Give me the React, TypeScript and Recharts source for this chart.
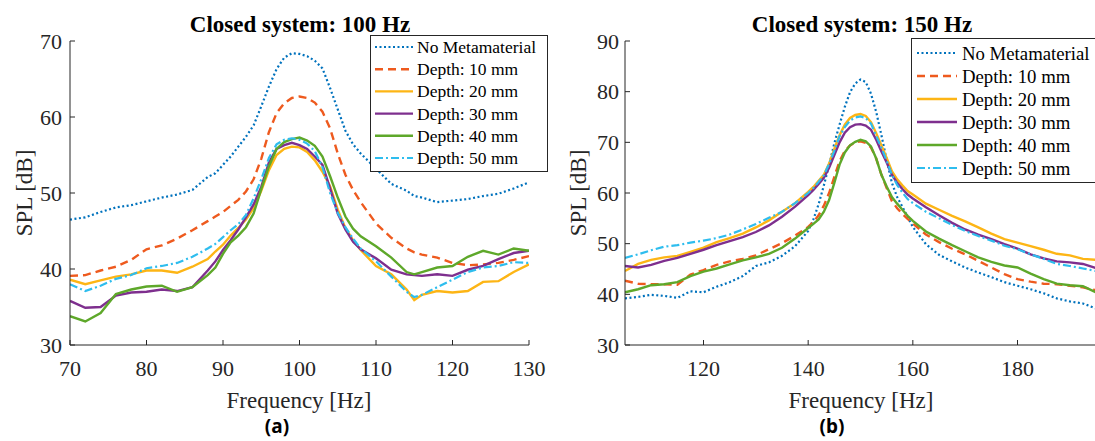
import React from 'react';
import { LineChart, Line, XAxis, YAxis, Legend } from 'recharts';

// ---------- Data (a): Closed system 100 Hz ----------
const freqA = [70, 72, 74, 76, 78, 80, 82, 84, 86, 88, 89, 90, 91, 92, 93, 94, 95, 96, 97, 98, 99, 100, 101, 102, 103, 104, 105, 106, 107, 108, 110, 112, 114, 115, 116, 118, 120, 122, 124, 126, 128, 130];
const noMetaA = [46.5, 46.8, 47.5, 48.1, 48.4, 48.9, 49.4, 49.8, 50.4, 52.1, 52.6, 53.7, 54.8, 56.1, 57.4, 58.9, 61.4, 64.0, 66.3, 67.8, 68.4, 68.3, 68.0, 67.4, 66.4, 63.8, 61.0, 58.2, 56.4, 55.2, 53.2, 51.2, 50.3, 49.6, 49.4, 48.8, 49.0, 49.2, 49.6, 49.9, 50.6, 51.4];
const d10A = [39.1, 39.2, 39.8, 40.3, 41.2, 42.6, 43.1, 44.0, 45.1, 46.3, 46.9, 47.5, 48.3, 49.1, 50.2, 51.8, 54.5, 58.0, 60.5, 61.8, 62.5, 62.7, 62.5, 61.9, 60.7, 58.5, 55.2, 52.4, 50.4, 48.8, 46.0, 44.1, 42.7, 42.2, 41.9, 41.5, 40.8, 40.5, 40.6, 40.8, 41.2, 41.7];
const d20A = [38.6, 38.0, 38.5, 39.0, 39.3, 39.8, 39.8, 39.5, 40.3, 41.3, 42.3, 43.2, 44.4, 45.4, 46.5, 48.0, 50.3, 53.0, 55.0, 55.8, 56.1, 56.0, 55.4, 54.3, 52.8, 50.9, 47.8, 45.4, 43.8, 42.5, 40.4, 39.3, 37.3, 35.9, 36.6, 37.1, 36.9, 37.1, 38.3, 38.4, 39.6, 40.6];
const d30A = [35.8, 34.9, 35.0, 36.5, 36.9, 37.0, 37.3, 37.1, 37.6, 39.8, 41.0, 42.5, 43.8, 45.2, 46.8, 48.5, 50.8, 54.0, 55.8, 56.3, 56.6, 56.3, 55.8, 54.8, 53.7, 50.6, 47.3, 45.2, 43.6, 42.6, 41.4, 39.9, 39.3, 39.2, 39.1, 39.3, 39.1, 39.9, 40.4, 41.3, 42.1, 42.4];
const d40A = [33.8, 33.1, 34.2, 36.7, 37.3, 37.7, 37.8, 37.0, 37.6, 39.2, 40.2, 42.0, 43.5, 44.4, 45.5, 47.3, 50.5, 53.5, 55.8, 56.7, 57.1, 57.3, 56.9, 56.2, 54.8, 52.2, 49.4, 46.9, 45.3, 44.3, 43.0, 41.5, 39.6, 39.3, 39.6, 40.2, 40.4, 41.6, 42.4, 41.9, 42.7, 42.4];
const d50A = [38.0, 37.1, 37.8, 38.7, 39.2, 40.1, 40.4, 40.8, 41.6, 42.7, 43.3, 44.2, 45.1, 45.9, 47.1, 49.3, 51.8, 54.6, 56.4, 57.0, 57.2, 57.0, 56.5, 55.5, 53.4, 50.0, 47.4, 45.5, 44.0, 42.7, 41.0, 39.0, 37.0, 36.3, 36.6, 37.6, 38.6, 39.6, 40.2, 40.4, 40.9, 40.8];

// ---------- Data (b): Closed system 150 Hz ----------
const freqB = [105, 107.5, 110, 112.5, 115, 117.5, 120, 122.5, 125, 127.5, 130, 132.5, 135, 137.5, 140, 141, 142, 143, 144, 145, 146, 147, 148, 149, 150, 151, 152, 153, 154, 155, 156, 157, 158, 159, 160, 162.5, 165, 167.5, 170, 172.5, 175, 177.5, 180, 182.5, 185, 187.5, 190, 192.5, 195];
const noMetaB = [39.2, 39.5, 39.9, 39.7, 39.3, 40.6, 40.4, 41.5, 42.4, 43.6, 45.6, 46.3, 47.6, 49.5, 52.5, 54.8, 57.8, 61.5, 65.5, 69.8, 73.5, 77.0, 79.9, 81.6, 82.4, 81.9, 79.6, 76.0, 71.4, 66.5, 62.0, 59.2, 57.3, 55.3, 53.3, 49.9, 47.8, 46.5, 45.3, 44.3, 43.4, 42.4, 41.7, 41.0, 40.2, 39.2, 38.6, 38.2, 37.2];
const d10B = [42.7, 42.1, 42.0, 42.0, 41.9, 43.9, 44.8, 45.8, 46.5, 47.0, 47.7, 48.9, 50.1, 51.6, 53.3, 54.3, 55.6, 57.5, 60.0, 63.2, 66.3, 68.3, 69.4, 70.0, 70.2, 69.9, 69.0, 66.8, 63.6, 61.0, 58.4, 57.0, 55.9, 54.9, 54.0, 51.8, 50.3, 49.0, 47.9, 46.6, 45.3, 44.0, 43.0, 42.5, 42.1, 42.0, 41.7, 41.4, 40.8];
const d20B = [44.6, 46.0, 46.8, 47.3, 47.6, 48.4, 49.2, 50.3, 51.1, 52.0, 53.2, 54.6, 56.3, 58.0, 60.2, 61.2, 62.4, 63.6, 65.8, 68.7, 71.4, 73.5, 74.8, 75.4, 75.6, 75.2, 74.0, 71.8, 69.4, 66.9, 64.3, 62.7, 61.5, 60.4, 59.7, 57.9, 56.7, 55.5, 54.4, 53.2, 52.0, 50.9, 50.2, 49.5, 48.8, 48.0, 47.7, 47.0, 46.8];
const d30B = [45.6, 45.3, 45.8, 46.6, 47.2, 48.0, 48.8, 49.7, 50.5, 51.3, 52.3, 53.6, 55.3, 57.3, 59.6, 60.6, 61.8, 63.0, 65.0, 67.5, 70.0, 71.9, 73.0, 73.5, 73.6, 73.3, 72.5, 70.5, 68.2, 66.0, 63.6, 62.0, 60.8, 59.7, 58.9, 57.2, 55.6, 54.1, 52.8, 51.8, 50.9, 49.9, 49.0, 47.9, 47.1, 46.5, 46.3, 46.0, 45.2];
const d40B = [40.4, 41.0, 41.8, 42.0, 42.4, 43.6, 44.5, 45.1, 45.9, 46.7, 47.3, 48.0, 49.2, 51.0, 53.1, 53.9, 54.8, 56.3, 58.6, 62.0, 65.6, 68.0, 69.4, 70.1, 70.5, 70.2, 69.2, 66.8, 63.6, 61.3, 59.2, 57.9, 56.7, 55.5, 54.5, 52.4, 51.0, 49.7, 48.5, 47.3, 46.4, 45.7, 45.3, 44.1, 43.0, 42.1, 41.8, 41.6, 40.4];
const d50B = [47.2, 47.9, 48.7, 49.4, 49.7, 50.2, 50.6, 51.1, 51.8, 52.8, 53.9, 55.1, 56.3, 58.0, 60.0, 61.0, 62.2, 63.5, 65.7, 68.3, 71.2, 73.0, 74.3, 74.9, 75.1, 74.8, 73.7, 71.3, 68.9, 66.4, 63.6, 61.6, 60.1, 58.8, 58.0, 56.3, 55.0, 53.7, 52.5, 51.5, 50.6, 49.6, 48.9, 47.9, 47.0, 46.0, 45.6, 45.1, 44.6];

const ticksXA = [70, 80, 90, 100, 110, 120, 130];
const ticksYA = [30, 40, 50, 60, 70];
const ticksXB = [120, 140, 160, 180];
const ticksYB = [30, 40, 50, 60, 70, 80, 90];

const seriesNames = ['No Metamaterial', 'Depth: 10 mm', 'Depth: 20 mm', 'Depth: 30 mm', 'Depth: 40 mm', 'Depth: 50 mm'];
const seriesKeys = ['noMeta', 'd10', 'd20', 'd30', 'd40', 'd50'];

// ---------- styles ----------
const seriesStyle: Record<string, { color: string; dash?: string; width: number }> = {
  noMeta: { color: '#0072BD', dash: '2 2.5', width: 2.2 },
  d10: { color: '#EE5A1E', dash: '8 5', width: 2.4 },
  d20: { color: '#FDB515', width: 2.4 },
  d30: { color: '#7E2F8E', width: 2.4 },
  d40: { color: '#5EA82A', width: 2.4 },
  d50: { color: '#2EBDEE', dash: '8 3 2 3', width: 2.2 },
};

const rowsA = freqA.map((f, i) => ({ f, noMeta: noMetaA[i], d10: d10A[i], d20: d20A[i], d30: d30A[i], d40: d40A[i], d50: d50A[i] }));
const rowsB = freqB.map((f, i) => ({ f, noMeta: noMetaB[i], d10: d10B[i], d20: d20B[i], d30: d30B[i], d40: d40B[i], d50: d50B[i] }));

const AXIS = '#262626';
const SERIF = '"Liberation Serif", "Times New Roman", serif';

function LegendBox(p: { w: number; h: number; fs: number; top: number; step: number; x0: number; len: number; gap: number }) {
  return (
    <svg width={p.w} height={p.h} style={{ display: 'block', overflow: 'visible' }}>
      <rect x={0.5} y={0.5} width={p.w - 1} height={p.h - 1} fill="#fff" stroke={AXIS} strokeWidth={1} />
      {seriesKeys.map((k, i) => {
        const s = seriesStyle[k];
        const cy = p.top + i * p.step;
        return (
          <g key={k}>
            <line x1={p.x0} x2={p.x0 + p.len} y1={cy} y2={cy} stroke={s.color} strokeWidth={s.width} strokeDasharray={s.dash} />
            <text x={p.x0 + p.len + p.gap} y={cy} dominantBaseline="central" fontSize={p.fs} fontFamily={SERIF} fill="#000">
              {seriesNames[i]}
            </text>
          </g>
        );
      })}
    </svg>
  );
}

function Panel(props: {
  rows: any[]; width: number; margin: any; xDomain: number[]; yDomain: number[]; xTicks: number[]; yTicks: number[];
  yTickMargin: number; legend: any; legendPos: any;
}) {
  return (
    <LineChart width={props.width} height={441} data={props.rows} margin={props.margin}>
      <XAxis
        type="number" dataKey="f" domain={props.xDomain} ticks={props.xTicks} allowDataOverflow
        height={1} tickSize={-5} tickMargin={20} interval={0}
        axisLine={{ stroke: AXIS, strokeWidth: 1 }} tickLine={{ stroke: AXIS, strokeWidth: 1 }}
        tick={{ fill: AXIS, fontSize: 22, fontFamily: SERIF }}
      />
      <YAxis
        type="number" domain={props.yDomain} ticks={props.yTicks} allowDataOverflow
        width={1} tickSize={-5} tickMargin={props.yTickMargin} interval={0}
        axisLine={{ stroke: AXIS, strokeWidth: 1 }} tickLine={{ stroke: AXIS, strokeWidth: 1 }}
        tick={{ fill: AXIS, fontSize: 22, fontFamily: SERIF }}
      />
      {seriesKeys.map((k, i) => (
        <Line
          key={k} type="linear" dataKey={k} name={seriesNames[i]} stroke={seriesStyle[k].color}
          strokeWidth={seriesStyle[k].width} strokeDasharray={seriesStyle[k].dash}
          dot={false} activeDot={false} isAnimationActive={false}
        />
      ))}
      <Legend
        layout="vertical" align="center" verticalAlign="middle"
        wrapperStyle={{ position: 'absolute', ...props.legendPos }}
        content={() => <LegendBox {...props.legend} />}
      />
    </LineChart>
  );
}

export default function App() {
  return (
    <div style={{ position: 'fixed', left: 0, top: 0, width: 1095, height: 441, overflow: 'hidden', background: '#fff' }}>
      <div style={{ position: 'absolute', left: 0, top: 0 }}>
        <Panel
          rows={rowsA} width={560} margin={{ top: 41, left: 69, right: 31, bottom: 95 }}
          xDomain={[70, 130]} yDomain={[30, 70]} xTicks={ticksXA} yTicks={ticksYA} yTickMargin={13}
          legend={{ w: 178, h: 137, fs: 17.5, top: 12, step: 22.2, x0: 5, len: 38, gap: 4 }}
          legendPos={{ left: 370, top: 35, width: 178, height: 137 }}
        />
      </div>
      <div style={{ position: 'absolute', left: 545, top: 0 }}>
        <Panel
          rows={rowsB} width={560} margin={{ top: 41, left: 79, right: 9, bottom: 95 }}
          xDomain={[105, 195]} yDomain={[30, 90]} xTicks={ticksXB} yTicks={ticksYB} yTickMargin={11}
          legend={{ w: 200, h: 145, fs: 18.75, top: 15, step: 23, x0: 6, len: 40, gap: 5 }}
          legendPos={{ left: 366, top: 38, width: 200, height: 145 }}
        />
      </div>
      <svg width={1095} height={441} style={{ position: 'absolute', left: 0, top: 0, pointerEvents: 'none' }}>
        <text x={300} y={32} textAnchor="middle" fontSize={23} fontWeight="bold" fontFamily={SERIF} fill="#000">Closed system: 100 Hz</text>
        <text x={862} y={32} textAnchor="middle" fontSize={23} fontWeight="bold" fontFamily={SERIF} fill="#000">Closed system: 150 Hz</text>
        <text x={299} y={408} textAnchor="middle" fontSize={23} fontFamily={SERIF} fill={AXIS}>Frequency [Hz]</text>
        <text x={861} y={408} textAnchor="middle" fontSize={23} fontFamily={SERIF} fill={AXIS}>Frequency [Hz]</text>
        <text transform="translate(32,193) rotate(-90)" textAnchor="middle" fontSize={23} fontFamily={SERIF} fill={AXIS}>SPL [dB]</text>
        <text transform="translate(586,193) rotate(-90)" textAnchor="middle" fontSize={23} fontFamily={SERIF} fill={AXIS}>SPL [dB]</text>
        <text x={277} y={433} textAnchor="middle" fontSize={19} fontWeight="bold" fontFamily='"Noto Sans", sans-serif' fill="#000">(a)</text>
        <text x={832} y={433} textAnchor="middle" fontSize={19} fontWeight="bold" fontFamily='"Noto Sans", sans-serif' fill="#000">(b)</text>
      </svg>
    </div>
  );
}
